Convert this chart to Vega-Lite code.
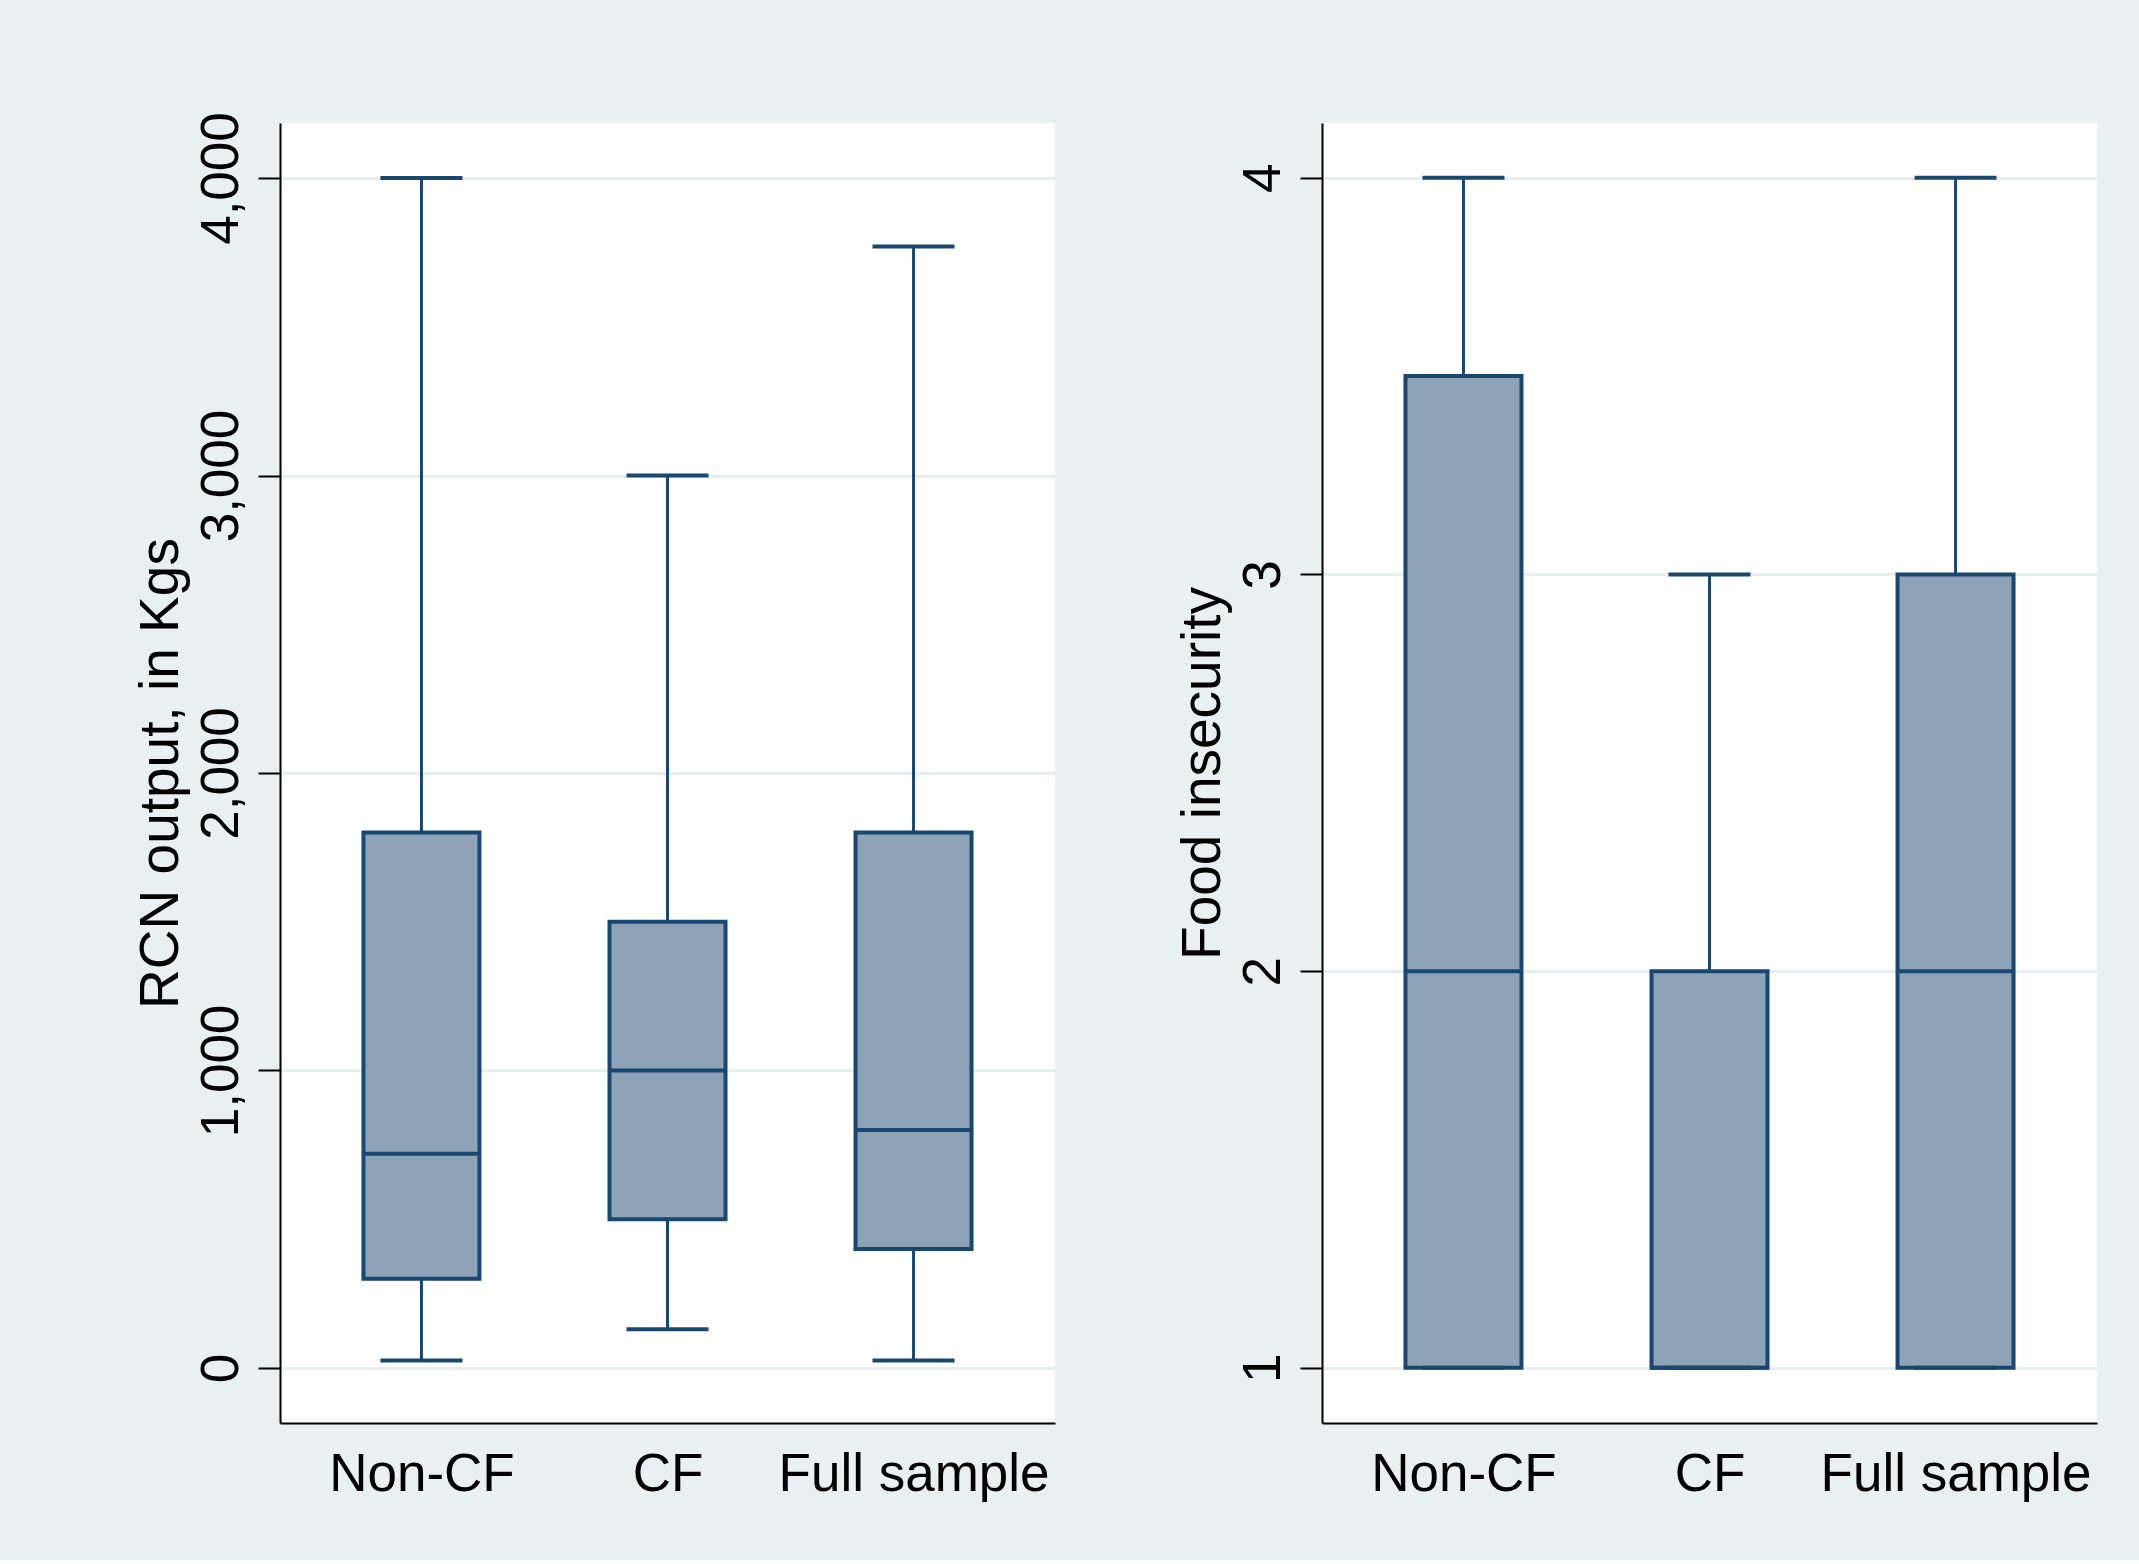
{
  "$schema": "https://vega.github.io/schema/vega-lite/v6.json",
  "background": "#e9f0f2",
  "padding": {"left": 133, "top": 111, "right": 43, "bottom": 59},
  "datasets": {
    "rcn": [
      {"group": "Non-CF", "lower": 25, "q1": 300, "median": 720, "q3": 1800, "upper": 4000},
      {"group": "CF", "lower": 130, "q1": 500, "median": 1000, "q3": 1500, "upper": 3000},
      {"group": "Full sample", "lower": 25, "q1": 400, "median": 800, "q3": 1800, "upper": 3770}
    ],
    "food": [
      {"group": "Non-CF", "lower": 1, "q1": 1, "median": 2, "q3": 3.5, "upper": 4},
      {"group": "CF", "lower": 1, "q1": 1, "median": 1, "q3": 2, "upper": 3},
      {"group": "Full sample", "lower": 1, "q1": 1, "median": 2, "q3": 3, "upper": 4}
    ]
  },
  "config": {
    "font": "Liberation Sans",
    "view": {"fill": "white", "stroke": null},
    "axis": {
      "labelFont": "Liberation Sans",
      "titleFont": "Liberation Sans",
      "labelColor": "black",
      "titleColor": "black",
      "labelFontSize": 53,
      "titleFontSize": 55,
      "titleFontWeight": "normal",
      "labelLimit": 0,
      "domainColor": "black",
      "domainWidth": 2,
      "tickColor": "black",
      "tickWidth": 2
    }
  },
  "bounds": "flush",
  "spacing": 267,
  "hconcat": [
    {
      "width": 775,
      "height": 1300,
      "data": {"name": "rcn"},
      "encoding": {
        "x": {
          "field": "group", "type": "nominal", "sort": ["Non-CF", "CF", "Full sample"],
          "scale": {"type": "point", "padding": 0.575},
          "axis": {"title": null, "labelAngle": 0, "ticks": false, "tickSize": 0, "labelPadding": 25, "grid": false}
        }
      },
      "layer": [
        {
          "mark": {"type": "rule", "color": "#1a476f", "strokeWidth": 3},
          "encoding": {
            "y": {
              "field": "lower", "type": "quantitative",
              "scale": {"domain": [-185, 4185], "nice": false, "zero": false},
              "axis": {
                "title": "RCN output, in Kgs",
                "values": [0, 1000, 2000, 3000, 4000],
                "format": ",d",
                "labelAngle": -90, "labelAlign": "center", "labelBaseline": "bottom",
                "tickSize": 22, "labelPadding": 10, "titlePadding": 6,
                "grid": true, "gridColor": "#e8eff1", "gridWidth": 3
              }
            },
            "y2": {"field": "upper"}
          }
        },
        {
          "mark": {"type": "bar", "width": 116, "fill": "#8ea3b8", "stroke": "#1a476f", "strokeWidth": 4},
          "encoding": {"y": {"field": "q1", "type": "quantitative"}, "y2": {"field": "q3"}}
        },
        {
          "mark": {"type": "tick", "size": 118, "thickness": 4, "color": "#1a476f", "opacity": 1},
          "encoding": {"y": {"field": "median", "type": "quantitative"}}
        },
        {
          "mark": {"type": "tick", "size": 82, "thickness": 4, "color": "#1a476f", "opacity": 1},
          "encoding": {"y": {"field": "upper", "type": "quantitative"}}
        },
        {
          "mark": {"type": "tick", "size": 82, "thickness": 4, "color": "#1a476f", "opacity": 1},
          "encoding": {"y": {"field": "lower", "type": "quantitative"}}
        }
      ]
    },
    {
      "width": 775,
      "height": 1300,
      "data": {"name": "food"},
      "encoding": {
        "x": {
          "field": "group", "type": "nominal", "sort": ["Non-CF", "CF", "Full sample"],
          "scale": {"type": "point", "padding": 0.575},
          "axis": {"title": null, "labelAngle": 0, "ticks": false, "tickSize": 0, "labelPadding": 25, "grid": false}
        }
      },
      "layer": [
        {
          "mark": {"type": "rule", "color": "#1a476f", "strokeWidth": 3},
          "encoding": {
            "y": {
              "field": "lower", "type": "quantitative",
              "scale": {"domain": [0.861, 4.138], "nice": false, "zero": false},
              "axis": {
                "title": "Food insecurity",
                "values": [1, 2, 3, 4],
                "format": "d",
                "labelAngle": -90, "labelAlign": "center", "labelBaseline": "bottom",
                "tickSize": 22, "labelPadding": 10, "titlePadding": 6,
                "grid": true, "gridColor": "#e8eff1", "gridWidth": 3
              }
            },
            "y2": {"field": "upper"}
          }
        },
        {
          "mark": {"type": "bar", "width": 116, "fill": "#8ea3b8", "stroke": "#1a476f", "strokeWidth": 4},
          "encoding": {"y": {"field": "q1", "type": "quantitative"}, "y2": {"field": "q3"}}
        },
        {
          "mark": {"type": "tick", "size": 118, "thickness": 4, "color": "#1a476f", "opacity": 1},
          "encoding": {"y": {"field": "median", "type": "quantitative"}}
        },
        {
          "mark": {"type": "tick", "size": 82, "thickness": 4, "color": "#1a476f", "opacity": 1},
          "encoding": {"y": {"field": "upper", "type": "quantitative"}}
        },
        {
          "mark": {"type": "tick", "size": 82, "thickness": 4, "color": "#1a476f", "opacity": 1},
          "encoding": {"y": {"field": "lower", "type": "quantitative"}}
        }
      ]
    }
  ]
}
